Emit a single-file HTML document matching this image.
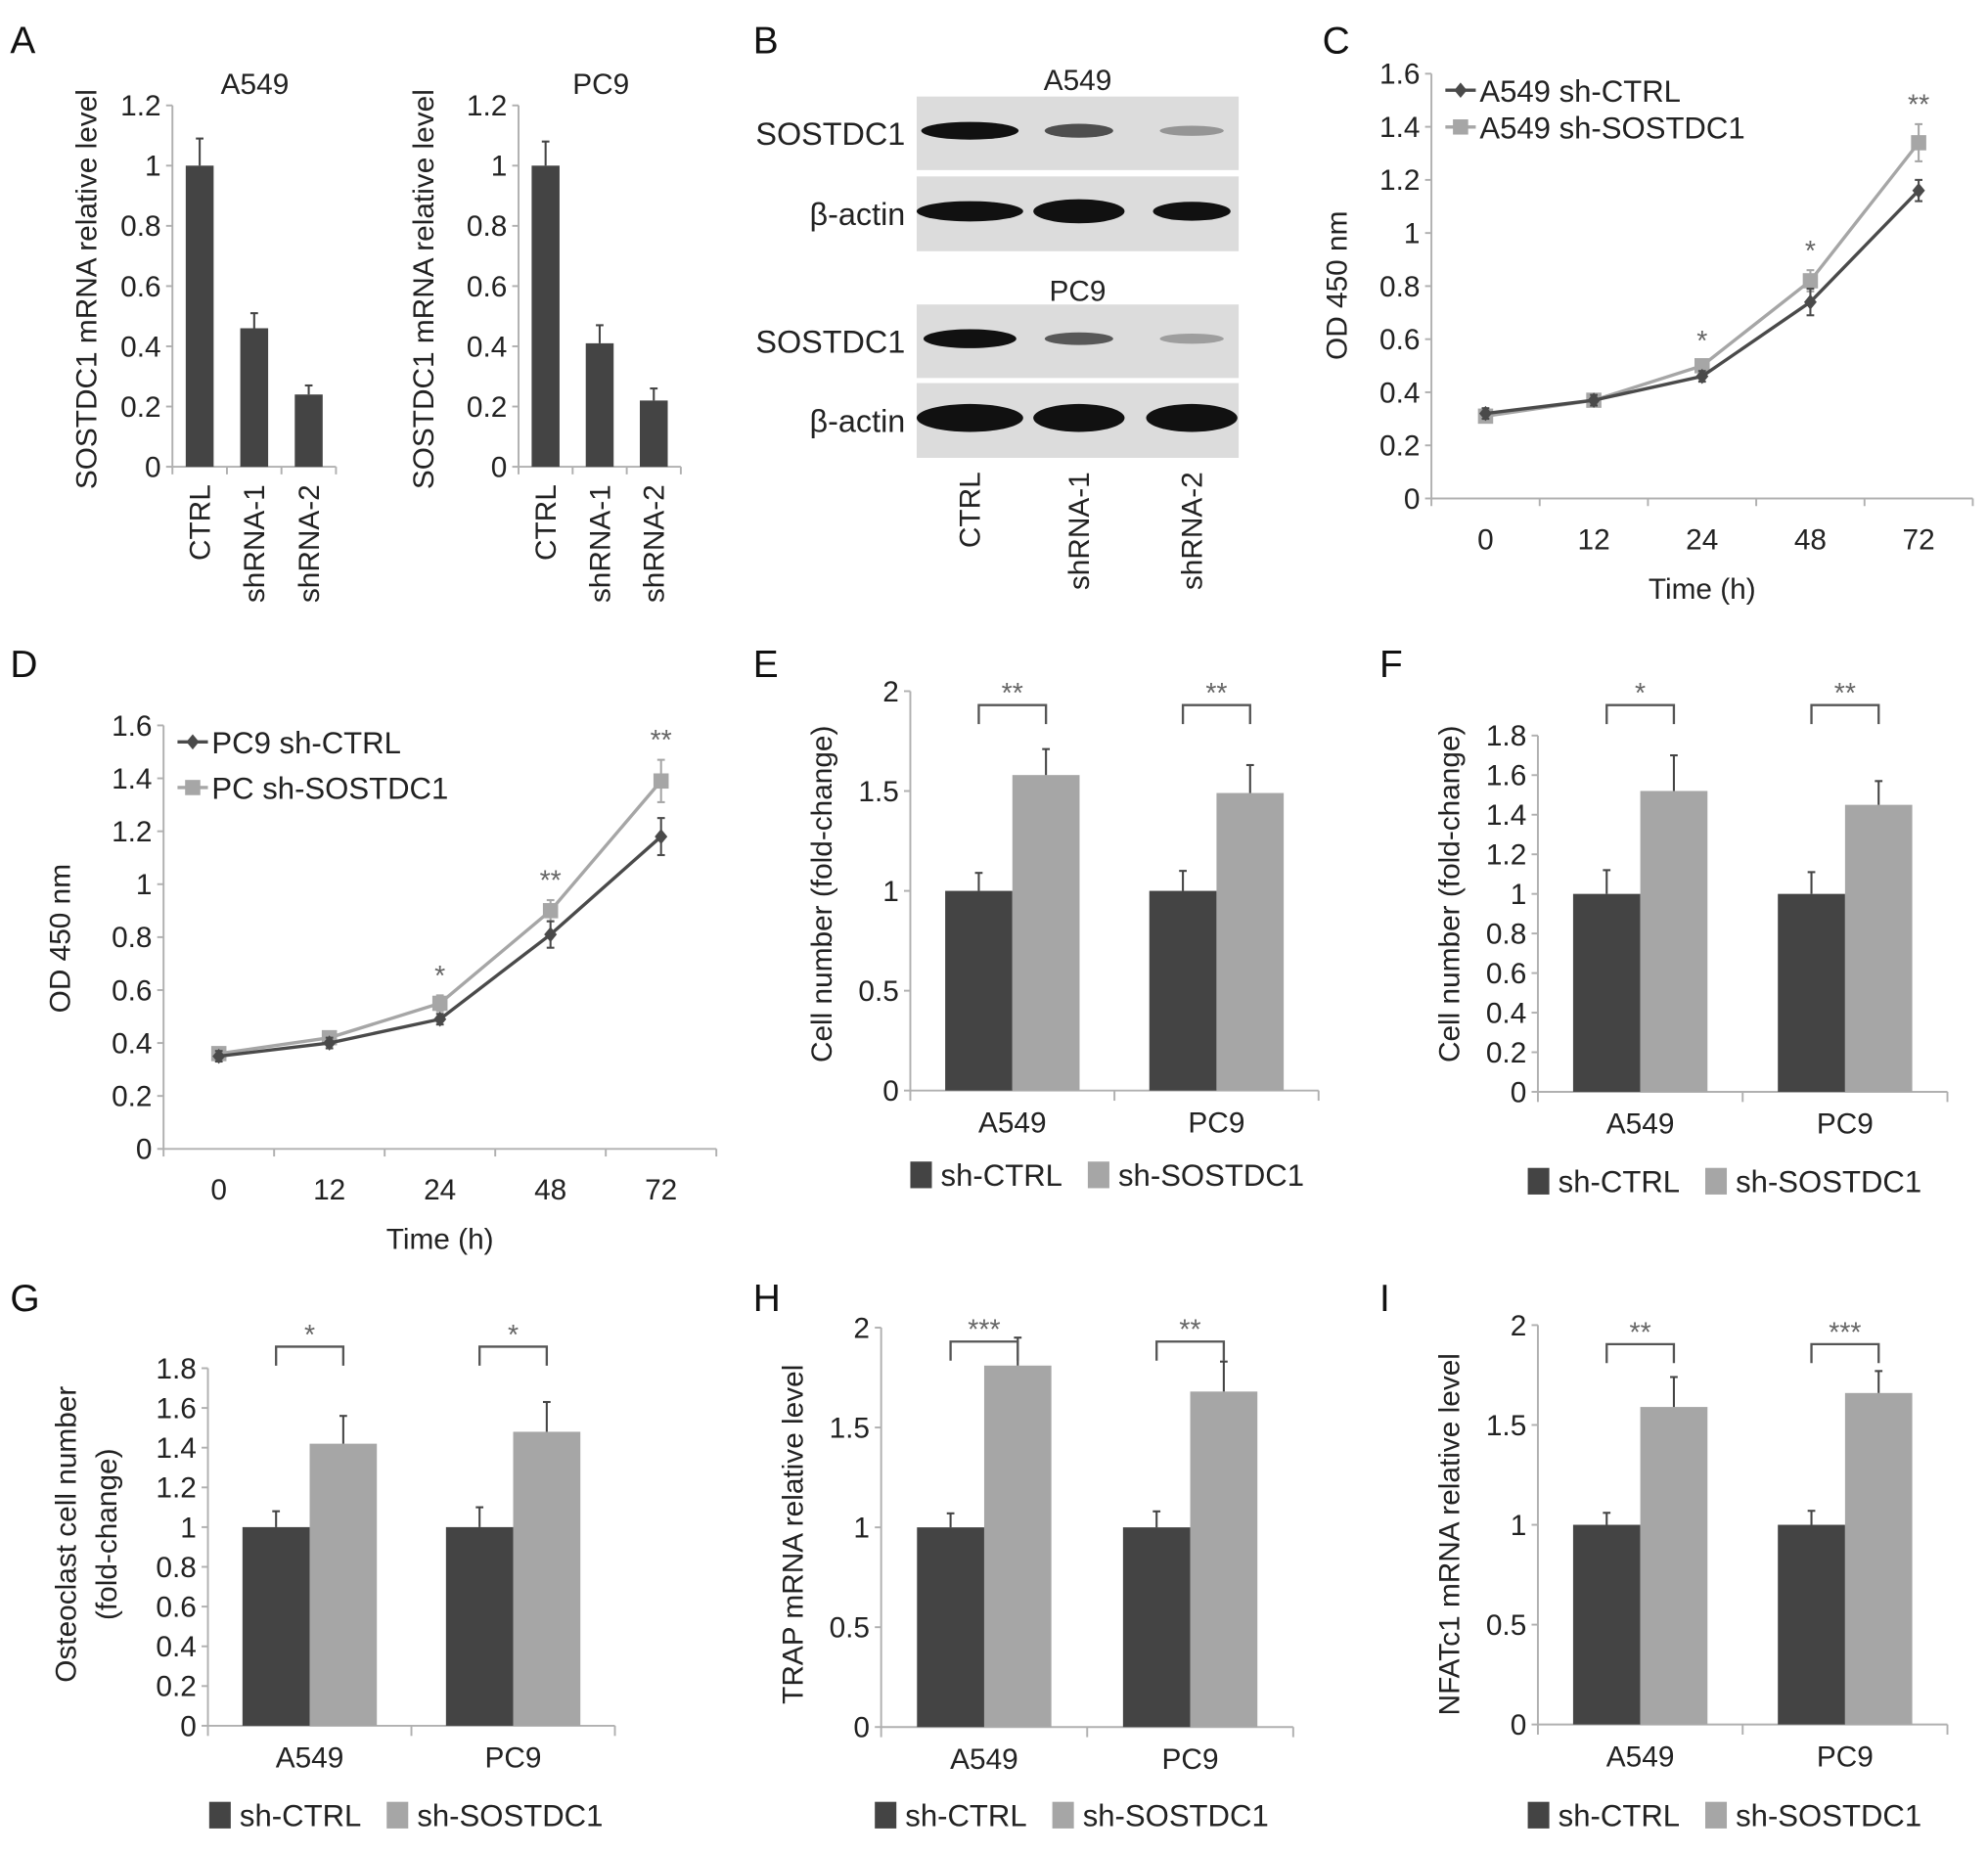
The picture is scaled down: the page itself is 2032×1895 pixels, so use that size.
<!DOCTYPE html>
<html><head><meta charset="utf-8"><style>
html,body{margin:0;padding:0;background:#fff;}
svg{display:block;font-family:"Liberation Sans",Arial,sans-serif;}
</style></head><body>
<svg id="fig" width="2032" height="1895" viewBox="0 0 1568 1462" xmlns="http://www.w3.org/2000/svg">
<rect width="1568" height="1462" fill="#fff"/>
<g font-size="30" fill="#111">
<text x="8" y="42">A</text>
<text x="594" y="42">B</text>
<text x="1043" y="42">C</text>
<text x="8" y="534">D</text>
<text x="594" y="534">E</text>
<text x="1088" y="534">F</text>
<text x="8" y="1034">G</text>
<text x="594" y="1034">H</text>
<text x="1088" y="1034">I</text>
</g>
<g id="blot"></g>
<g id="charts"></g>
</svg>
<script>
// ---- data ----
const aCats = ["CTRL","shRNA-1","shRNA-2"];
const aA549Vals = [1.0, 0.46, 0.24];
const aA549Errs = [0.09, 0.05, 0.03];
const aPC9Vals = [1.0, 0.41, 0.22];
const aPC9Errs = [0.08, 0.06, 0.04];
const aTicks = [0,0.2,0.4,0.6,0.8,1,1.2];

const timeCats = ["0","12","24","48","72"];
const cCtrl = [0.32,0.37,0.46,0.74,1.16];
const cCtrlErr = [0.02,0.02,0.02,0.05,0.04];
const cSost = [0.31,0.37,0.50,0.82,1.34];
const cSostErr = [0.02,0.02,0.02,0.04,0.07];
const cStars = ["","","*","*","**"];
const dCtrl = [0.35,0.40,0.49,0.81,1.18];
const dCtrlErr = [0.02,0.02,0.02,0.05,0.07];
const dSost = [0.36,0.42,0.55,0.90,1.39];
const dSostErr = [0.02,0.02,0.03,0.04,0.08];
const dStars = ["","","*","**","**"];
const lineTicks = [0,0.2,0.4,0.6,0.8,1,1.2,1.4,1.6];

const groupCats = ["A549","PC9"];
const eCtrl=[1.0,1.0], eCtrlErr=[0.09,0.10], eSost=[1.58,1.49], eSostErr=[0.13,0.14], eStars=["**","**"];
const fCtrl=[1.0,1.0], fCtrlErr=[0.12,0.11], fSost=[1.52,1.45], fSostErr=[0.18,0.12], fStars=["*","**"];
const gCtrl=[1.0,1.0], gCtrlErr=[0.08,0.10], gSost=[1.42,1.48], gSostErr=[0.14,0.15], gStars=["*","*"];
const hCtrl=[1.0,1.0], hCtrlErr=[0.07,0.08], hSost=[1.81,1.68], hSostErr=[0.14,0.15], hStars=["***","**"];
const iCtrl=[1.0,1.0], iCtrlErr=[0.06,0.07], iSost=[1.59,1.66], iSostErr=[0.15,0.11], iStars=["**","***"];
const ticks2 = [0,0.5,1,1.5,2];
const ticks18 = [0,0.2,0.4,0.6,0.8,1,1.2,1.4,1.6,1.8];

const NS="http://www.w3.org/2000/svg";
const DARK="#444", LIGHT="#a6a6a6", AX="#b0b0b0";
const FT=23, FL=23;
function mk(tag, attrs, parent, txt){
  const e=document.createElementNS(NS,tag);
  for(const k in attrs) e.setAttribute(k,attrs[k]);
  if(txt!==undefined) e.textContent=txt;
  parent.appendChild(e); return e;
}
const root=document.getElementById('charts');

function yAxis(g,c,ticks){
  const ln=mk('line',{x1:c.x0,y1:c.y0,x2:c.x0,y2:c.yS(ticks[ticks.length-1]),stroke:AX,'stroke-width':1.5},g);
  
  
  ticks.forEach(t=>{
    mk('line',{x1:c.x0-5,y1:c.yS(t),x2:c.x0,y2:c.yS(t),stroke:AX,'stroke-width':1.5},g);
    const tx=mk('text',{x:c.x0-9,y:c.yS(t)+8,'text-anchor':'end','font-size':FT,fill:'#222'},g,String(t));
    
    
  });
}
function yTitle(g,x,y,lines){
  lines.forEach((l,i)=>{
    const t=mk('text',{x:x+i*32,y:y,'text-anchor':'middle','font-size':FL,fill:'#222',transform:`rotate(-90 ${x+i*32} ${y})`},g,l);
    
    
  });
}
function errBar(g,x,yv,ye,col){
  mk('line',{x1:x,y1:yv,x2:x,y2:ye,stroke:col,'stroke-width':1.6},g);
  mk('line',{x1:x-3,y1:ye,x2:x+3,y2:ye,stroke:col,'stroke-width':1.6},g);
}

// ---- Panel A ----
function panelA(x0,x1,title,tx,vals,errs,ytx,name){
  const g=mk('g',{},root);
  
  
  const c={x0:x0,y0:368,yS:v=>368-v/1.2*285};
  yAxis(g,c,aTicks);
  mk('line',{x1:x0,y1:368,x2:x1,y2:368,stroke:AX,'stroke-width':1.5},g);
  const w=(x1-x0)/aCats.length;
  for(let i=0;i<=aCats.length;i++) mk('line',{x1:x0+i*w,y1:368,x2:x0+i*w,y2:374,stroke:AX,'stroke-width':1.5},g);
  aCats.forEach((cat,i)=>{
    const cx=x0+(i+0.5)*w;
    const b=mk('rect',{x:cx-11,y:c.yS(vals[i]),width:22,height:368-c.yS(vals[i]),fill:DARK},g);
    
    
    errBar(g,cx,c.yS(vals[i]),c.yS(vals[i]+errs[i]),DARK);
    const t=mk('text',{x:cx+8,y:382,'text-anchor':'end','font-size':FT,fill:'#222',transform:`rotate(-90 ${cx+8} 382)`},g,cat);
    
    
  });
  const tt=mk('text',{x:tx,y:74,'text-anchor':'middle','font-size':FT,fill:'#222'},g,title);
  
  
  yTitle(g,ytx,228,["SOSTDC1 mRNA relative level"]);
}
panelA(136,265,"A549",201,aA549Vals,aA549Errs,76,'panel-a-a549-chart');
panelA(409,537,"PC9",474,aPC9Vals,aPC9Errs,342,'panel-a-pc9-chart');

// ---- Panel B blot ----
(function(){
  const g=document.getElementById('blot');
  const boxes=[{y:76,h:58,lab:"SOSTDC1",bands:[[1,0.9,12],[0.7,0.75,9],[0.35,0.7,6]]},
               {y:139,h:59,lab:"β-actin",bands:[[1,1,14],[1,1,17],[1,0.85,13]]},
               {y:240,h:58,lab:"SOSTDC1",bands:[[1,0.85,13],[0.65,0.75,8],[0.3,0.7,6]]},
               {y:302,h:59,lab:"β-actin",bands:[[1,1,20],[1,1,20],[1,1,20]]}];
  const cols=[765,851,940];
  boxes.forEach(b=>{
    const r=mk('rect',{x:723,y:b.y,width:254,height:b.h,fill:'#dcdcdc'},g);
    
    
    b.bands.forEach((bd,i)=>{
      const e=mk('ellipse',{cx:cols[i],cy:b.y+b.h*0.5-2,rx:36*bd[1]+(i==0?6:0),ry:bd[2]/2+1,fill:'#111','fill-opacity':bd[0]},g);
      
      
    });
    const t=mk('text',{x:714,y:b.y+b.h/2+9,'text-anchor':'end','font-size':25,fill:'#222'},g,b.lab);
    
    
  });
  [["A549",71],["PC9",237]].forEach(a=>{
    const t=mk('text',{x:850,y:a[1],'text-anchor':'middle','font-size':FT,fill:'#222'},g,a[0]);
    
    
  });
  aCats.forEach((c,i)=>{
    const t=mk('text',{x:cols[i]+8,y:372,'text-anchor':'end','font-size':FT,fill:'#222',transform:`rotate(-90 ${cols[i]+8} 372)`},g,c);
    
    
  });
})();

// ---- line charts ----
function lineChart(o){
  const g=mk('g',{},root);
  
  
  const c={x0:o.x0,y0:o.y0,yS:v=>o.y0-v/1.6*(o.y0-o.yTop)};
  yAxis(g,c,lineTicks);
  mk('line',{x1:o.x0,y1:o.y0,x2:o.x1,y2:o.y0,stroke:AX,'stroke-width':1.5},g);
  const w=(o.x1-o.x0)/timeCats.length;
  const xS=i=>o.x0+(i+0.5)*w;
  for(let i=0;i<=timeCats.length;i++) mk('line',{x1:o.x0+i*w,y1:o.y0,x2:o.x0+i*w,y2:o.y0+6,stroke:AX,'stroke-width':1.5},g);
  timeCats.forEach((t,i)=>{
    const tx=mk('text',{x:xS(i),y:o.y0+40,'text-anchor':'middle','font-size':FT,fill:'#222'},g,t);
    
    
  });
  const xt=mk('text',{x:xS(2),y:o.y0+79,'text-anchor':'middle','font-size':FT,fill:'#222'},g,"Time (h)");
  
  
  yTitle(g,o.ytx,o.yty,["OD 450 nm"]);
  [[o.sost,o.sostErr,LIGHT,'sost'],[o.ctrl,o.ctrlErr,'#4a4a4a','ctrl']].forEach(s=>{
    const pts=s[0].map((v,i)=>xS(i)+','+c.yS(v)).join(' ');
    const pl=mk('polyline',{points:pts,fill:'none',stroke:s[2],'stroke-width':2.6},g);
    
    
    s[0].forEach((v,i)=>{
      errBar(g,xS(i),c.yS(v-s[1][i]),c.yS(v+s[1][i]),s[2]);
      mk('line',{x1:xS(i)-3,y1:c.yS(v-s[1][i]),x2:xS(i)+3,y2:c.yS(v-s[1][i]),stroke:s[2],'stroke-width':1.6},g);
      let m;
      if(s[3]=='sost') m=mk('rect',{x:xS(i)-6,y:c.yS(v)-6,width:12,height:12,fill:s[2]},g);
      else m=mk('path',{d:`M${xS(i)} ${c.yS(v)-6}l5 6l-5 6l-5 -6z`,fill:s[2]},g);
      
      
    });
  });
  o.stars.forEach((st,i)=>{
    if(!st) return;
    const top=Math.max(o.sost[i]+o.sostErr[i],o.ctrl[i]+o.ctrlErr[i]);
    const t=mk('text',{x:xS(i),y:c.yS(top)-8,'text-anchor':'middle','font-size':22,fill:'#666'},g,st);
    
    
  });
  const lg=[[o.leg[0],'#4a4a4a','d'],[o.leg[1],LIGHT,'s']];
  lg.forEach((l,k)=>{
    const y=o.ly+k*o.lgap;
    mk('line',{x1:o.lx,y1:y,x2:o.lx+24,y2:y,stroke:l[1],'stroke-width':2.6},g);
    if(l[2]=='s') mk('rect',{x:o.lx+6,y:y-6,width:12,height:12,fill:l[1]},g);
    else mk('path',{d:`M${o.lx+12} ${y-6}l5 6l-5 6l-5 -6z`,fill:l[1]},g);
    const t=mk('text',{x:o.lx+27,y:y+9,'font-size':24,fill:'#222'},g,l[0]);
    
    
  });
}
lineChart({name:'panel-c-chart',x0:1129,x1:1556,y0:393,yTop:58,ctrl:cCtrl,ctrlErr:cCtrlErr,sost:cSost,sostErr:cSostErr,stars:cStars,ytx:1062,yty:225,leg:["A549 sh-CTRL","A549 sh-SOSTDC1"],lx:1140,ly:71,lgap:29});
lineChart({name:'panel-d-chart',x0:129,x1:565,y0:906,yTop:572,ctrl:dCtrl,ctrlErr:dCtrlErr,sost:dSost,sostErr:dSostErr,stars:dStars,ytx:55,yty:740,leg:["PC9 sh-CTRL","PC sh-SOSTDC1"],lx:140,ly:585,lgap:36});

// ---- grouped bar charts ----
function barChart(o){
  const g=mk('g',{},root);
  
  
  const mx=o.ticks[o.ticks.length-1];
  const c={x0:o.x0,y0:o.y0,yS:v=>o.y0-v/mx*(o.y0-o.yTop)};
  yAxis(g,c,o.ticks);
  mk('line',{x1:o.x0,y1:o.y0,x2:o.x1,y2:o.y0,stroke:AX,'stroke-width':1.5},g);
  const w=(o.x1-o.x0)/groupCats.length;
  for(let i=0;i<=groupCats.length;i++) mk('line',{x1:o.x0+i*w,y1:o.y0,x2:o.x0+i*w,y2:o.y0+8,stroke:AX,'stroke-width':1.5},g);
  const bw=53;
  groupCats.forEach((cat,i)=>{
    const cx=o.x0+(i+0.5)*w;
    [[o.ctrl,o.ctrlErr,DARK,cx-bw,'ctrl'],[o.sost,o.sostErr,LIGHT,cx,'sost']].forEach(s=>{
      const v=s[0][i];
      const b=mk('rect',{x:s[3],y:c.yS(v),width:bw,height:o.y0-c.yS(v),fill:s[2]},g);
      
      
      errBar(g,s[3]+bw/2,c.yS(v),c.yS(v+s[1][i]),DARK);
    });
    const bl=cx-bw/2, br=cx+bw/2;
    const br1=mk('path',{d:`M${bl} ${o.by+15}V${o.by}H${br}V${o.by+15}`,fill:'none',stroke:'#555','stroke-width':1.8},g);
    
    
    const st=mk('text',{x:cx,y:o.by-2,'text-anchor':'middle','font-size':22,fill:'#666'},g,o.stars[i]);
    
    
    const tl=mk('text',{x:cx,y:o.y0+33,'text-anchor':'middle','font-size':FT,fill:'#222'},g,cat);
    
    
  });
  yTitle(g,o.ytx,o.yty,o.ytitle);
  [["sh-CTRL",DARK,o.lx],["sh-SOSTDC1",LIGHT,o.lx+140]].forEach(l=>{
    mk('rect',{x:l[2],y:o.ly-18,width:17,height:21,fill:l[1]},g);
    const t=mk('text',{x:l[2]+24,y:o.ly+1,'font-size':24,fill:'#222'},g,l[0]);
    
    
  });
}
barChart({name:'panel-e-chart',x0:718,x1:1040,y0:860,yTop:545,ticks:ticks2,ctrl:eCtrl,ctrlErr:eCtrlErr,sost:eSost,sostErr:eSostErr,stars:eStars,by:556,ytx:656,yty:705,ytitle:["Cell number (fold-change)"],lx:718,ly:934});
barChart({name:'panel-f-chart',x0:1213,x1:1536,y0:861,yTop:580,ticks:ticks18,ctrl:fCtrl,ctrlErr:fCtrlErr,sost:fSost,sostErr:fSostErr,stars:fStars,by:556,ytx:1151,yty:705,ytitle:["Cell number (fold-change)"],lx:1205,ly:939});
barChart({name:'panel-g-chart',x0:164,x1:485,y0:1361,yTop:1079,ticks:ticks18,ctrl:gCtrl,ctrlErr:gCtrlErr,sost:gSost,sostErr:gSostErr,stars:gStars,by:1062,ytx:60,yty:1210,ytitle:["Osteoclast cell number","(fold-change)"],lx:165,ly:1439});
barChart({name:'panel-h-chart',x0:695,x1:1020,y0:1362,yTop:1047,ticks:ticks2,ctrl:hCtrl,ctrlErr:hCtrlErr,sost:hSost,sostErr:hSostErr,stars:hStars,by:1058,ytx:633,yty:1210,ytitle:["TRAP mRNA relative level"],lx:690,ly:1439});
barChart({name:'panel-i-chart',x0:1213,x1:1536,y0:1360,yTop:1045,ticks:ticks2,ctrl:iCtrl,ctrlErr:iCtrlErr,sost:iSost,sostErr:iSostErr,stars:iStars,by:1060,ytx:1151,yty:1210,ytitle:["NFATc1 mRNA relative level"],lx:1205,ly:1439});
</script>
</body></html>
